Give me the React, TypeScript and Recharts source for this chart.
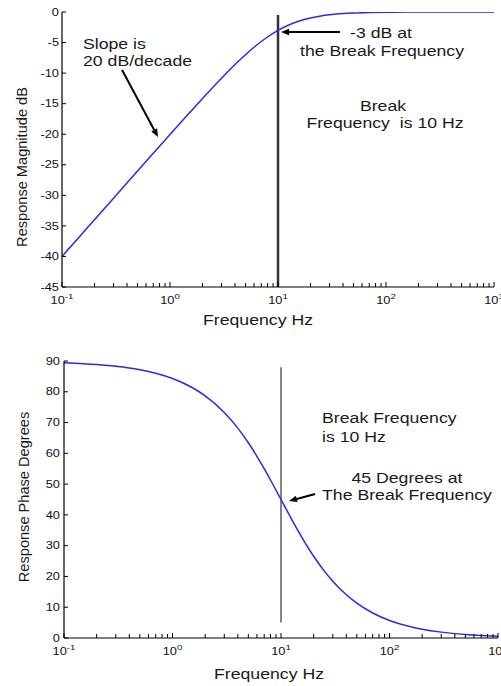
import React from 'react';
import { LineChart, Line, XAxis, YAxis, ReferenceLine, ReferenceDot } from 'recharts';

// ---------- data ----------
const frequencies = [0.1, 0.15, 0.2, 0.3, 0.5, 0.7, 1, 1.5, 2, 3, 4, 5, 6, 7, 8, 10, 12, 15, 20, 25, 30, 40, 50, 70, 100, 150, 200, 300, 500, 700, 1000];
const magnitudeDb = [-40.0, -36.48, -33.98, -30.46, -26.03, -23.12, -20.04, -16.58, -14.15, -10.83, -8.6, -6.99, -5.77, -4.83, -4.09, -3.01, -2.29, -1.6, -0.97, -0.64, -0.46, -0.26, -0.17, -0.09, -0.04, -0.02, -0.01, 0, 0, 0, 0];
const phaseDeg = [89.43, 89.14, 88.85, 88.28, 87.14, 86.0, 84.29, 81.47, 78.69, 73.3, 68.2, 63.43, 59.04, 55.01, 51.34, 45.0, 39.81, 33.69, 26.57, 21.8, 18.43, 14.04, 11.31, 8.13, 5.71, 3.81, 2.86, 1.91, 1.15, 0.82, 0.57];

const xTickValues = [0.1, 0.2, 0.3, 0.4, 0.5, 0.6, 0.7, 0.8, 0.9, 1, 2, 3, 4, 5, 6, 7, 8, 9, 10, 20, 30, 40, 50, 60, 70, 80, 90, 100, 200, 300, 400, 500, 600, 700, 800, 900, 1000];
const decadeTicks = [0.1, 1, 10, 100, 1000];
const decadeExponents = ['-1', '0', '1', '2', '3'];
const magTicks = [0, -5, -10, -15, -20, -25, -30, -35, -40, -45];
const phaseTicks = [0, 10, 20, 30, 40, 50, 60, 70, 80, 90];
const breakFrequency = 10;

const magData = frequencies.map((f, i) => ({ f, v: magnitudeDb[i] }));
const phaseData = frequencies.map((f, i) => ({ f, v: phaseDeg[i] }));

// ---------- styling helpers ----------
const SX = 1.22;
const FONT = '"Liberation Sans", Arial, Helvetica, sans-serif';
const TXT = '#1a1a1a';
const CURVE = '#2a2ae6';

function SText({ x, y, anchor = 'start', size = 14.5, children }: any) {
  return (
    <text
      transform={`translate(${x},${y}) scale(${SX},1)`}
      x={0}
      y={0}
      textAnchor={anchor}
      fontSize={size}
      fontFamily={FONT}
      fill={TXT}
      style={{ whiteSpace: 'pre' }}
    >
      {children}
    </text>
  );
}

const BottomTick = (props: any) => {
  const { x, y, payload } = props;
  const i = decadeTicks.indexOf(payload.value);
  const major = i >= 0;
  return (
    <g>
      <line x1={x} x2={x} y1={y} y2={y - (major ? 5 : 4)} stroke="#000" strokeWidth={1} />
      {major && (
        <text transform={`translate(${x},${y + 17}) scale(${SX},1)`} textAnchor="middle" fontSize={10.5} fontFamily={FONT} fill="#111">
          <tspan>10</tspan>
          <tspan dy={-5} fontSize={8}>{decadeExponents[i]}</tspan>
        </text>
      )}
    </g>
  );
};

const TopTick = (props: any) => {
  const { x, y, payload } = props;
  const major = decadeTicks.indexOf(payload.value) >= 0;
  return <line x1={x} x2={x} y1={y} y2={y + (major ? 5 : 4)} stroke="#000" strokeWidth={1} />;
};

const LeftTick = (props: any) => {
  const { x, y, payload, gap } = props;
  return (
    <g>
      <line x1={x} x2={x + 4} y1={y} y2={y} stroke="#000" strokeWidth={1} />
      <text transform={`translate(${x - gap},${y + 3.7}) scale(${SX},1)`} textAnchor="end" fontSize={10.5} fontFamily={FONT} fill="#111">
        {String(payload.value)}
      </text>
    </g>
  );
};

const RightTick = (props: any) => {
  const { x, y } = props;
  return <line x1={x} x2={x - 4} y1={y} y2={y} stroke="#000" strokeWidth={1} />;
};

const XTitle = (props: any) => {
  const vb = props.viewBox || { x: 0, y: 0, width: 0, height: 0 };
  return (
    <SText x={vb.x + vb.width / 2 + props.dx} y={vb.y + props.dy} anchor="middle" size={14.5}>
      Frequency Hz
    </SText>
  );
};

const YTitle = (props: any) => {
  const vb = props.viewBox || { x: 0, y: 0, width: 0, height: 0 };
  const cy = vb.y + vb.height / 2 + props.dy;
  return (
    <text transform={`translate(${props.bx},${cy}) rotate(-90)`} textAnchor="middle" fontSize={14.6} fontFamily={FONT} fill={TXT}>
      {props.text}
    </text>
  );
};

const Arrow = (props: any) => {
  const { x1, y1, x2, y2 } = props;
  if ([x1, y1, x2, y2].some((v) => typeof v !== 'number' || isNaN(v))) return <g />;
  const ang = Math.atan2(y2 - y1, x2 - x1);
  const L = 8;
  const W = 3.3;
  const bx = x2 - L * Math.cos(ang);
  const by = y2 - L * Math.sin(ang);
  const px = -Math.sin(ang) * W;
  const py = Math.cos(ang) * W;
  return (
    <g>
      <line x1={x1} y1={y1} x2={bx} y2={by} stroke="#000" strokeWidth={2} />
      <polygon points={`${x2},${y2} ${bx + px},${by + py} ${bx - px},${by - py}`} fill="#000" />
    </g>
  );
};

const textShape = (label: string, anchor: string, size = 14.5) => (p: any) => (
  <SText x={p.cx} y={p.cy} anchor={anchor} size={size}>
    {label}
  </SText>
);

// annotations (data coordinates)
const magNotes = [
  { f: 0.1565, v: -6.05, text: 'Slope is', anchor: 'start' },
  { f: 0.1565, v: -8.84, text: '20 dB/decade', anchor: 'start' },
  { f: 89.9, v: -4.25, text: '-3 dB at', anchor: 'middle' },
  { f: 91.8, v: -7.2, text: 'the Break Frequency', anchor: 'middle' },
  { f: 93.8, v: -16.2, text: 'Break', anchor: 'middle' },
  { f: 97.9, v: -18.98, text: 'Frequency  is 10 Hz', anchor: 'middle' },
];
const magArrows = [
  [{ x: 0.36, y: -9.49 }, { x: 0.774, y: -20.45 }],
  [{ x: 37.5, y: -3.27 }, { x: 10.67, y: -3.27 }],
];
const phaseNotes = [
  { f: 23.9, v: 69.85, text: 'Break Frequency', anchor: 'start' },
  { f: 23.9, v: 63.7, text: 'is 10 Hz', anchor: 'start' },
  { f: 144.9, v: 50.4, text: '45 Degrees at', anchor: 'middle' },
  { f: 144.9, v: 44.8, text: 'The Break Frequency', anchor: 'middle' },
];
const phaseArrows = [[{ x: 20.6, y: 46.8 }, { x: 11.86, y: 44.5 }]];

export default function App() {
  return (
    <div style={{ position: 'absolute', left: 0, top: 0, width: 501, height: 686, background: '#fff', overflow: 'hidden' }}>
      <div style={{ position: 'absolute', left: 0, top: 0 }}>
        <LineChart width={501} height={340} data={magData} margin={{ top: 12, right: 7, bottom: 0, left: 0 }}>
          <XAxis
            xAxisId="b"
            dataKey="f"
            type="number"
            scale="log"
            domain={[0.1, 1000]}
            allowDataOverflow
            ticks={xTickValues}
            interval={0}
            tickSize={0}
            tickMargin={0}
            tickLine={false}
            tick={<BottomTick />}
            height={53}
            axisLine={{ stroke: '#000', strokeWidth: 1.2 }}
            label={<XTitle dx={-20} dy={38} />}
          />
          <XAxis
            xAxisId="t"
            orientation="top"
            dataKey="f"
            type="number"
            scale="log"
            domain={[0.1, 1000]}
            allowDataOverflow
            ticks={xTickValues}
            interval={0}
            tickSize={0}
            tickMargin={0}
            tickLine={false}
            tick={<TopTick />}
            height={0}
            axisLine={{ stroke: '#000', strokeWidth: 1.2 }}
          />
          <YAxis
            yAxisId="l"
            type="number"
            domain={[-45, 0]}
            allowDataOverflow
            ticks={magTicks}
            interval={0}
            tickSize={0}
            tickMargin={0}
            tickLine={false}
            tick={<LeftTick gap={3} />}
            width={62}
            axisLine={{ stroke: '#000', strokeWidth: 1.2 }}
            label={<YTitle bx={27} dy={17.5} text="Response Magnitude dB" />}
          />
          <YAxis
            yAxisId="r"
            orientation="right"
            type="number"
            domain={[-45, 0]}
            allowDataOverflow
            ticks={magTicks}
            interval={0}
            tickSize={0}
            tickMargin={0}
            tickLine={false}
            tick={<RightTick />}
            width={0}
            axisLine={{ stroke: '#000', strokeWidth: 1.2 }}
          />
          <ReferenceLine
            xAxisId="b"
            yAxisId="l"
            segment={[{ x: breakFrequency, y: -0.5 }, { x: breakFrequency, y: -45 }]}
            stroke="#333"
            strokeWidth={2.5}
          />
          <Line xAxisId="b" yAxisId="l" dataKey="v" type="monotone" stroke={CURVE} strokeWidth={1.5} dot={false} isAnimationActive={false} />
          {magArrows.map((seg, i) => (
            <ReferenceLine key={'ma' + i} xAxisId="b" yAxisId="l" segment={seg} shape={<Arrow />} />
          ))}
          {magNotes.map((n, i) => (
            <ReferenceDot key={'mn' + i} xAxisId="b" yAxisId="l" x={n.f} y={n.v} r={0} shape={textShape(n.text, n.anchor)} />
          ))}
        </LineChart>
      </div>
      <div style={{ position: 'absolute', left: 0, top: 340 }}>
        <LineChart width={501} height={346} data={phaseData} margin={{ top: 21, right: 3, bottom: 0, left: 0 }}>
          <XAxis
            xAxisId="b"
            dataKey="f"
            type="number"
            scale="log"
            domain={[0.1, 1000]}
            allowDataOverflow
            ticks={xTickValues}
            interval={0}
            tickSize={0}
            tickMargin={0}
            tickLine={false}
            tick={<BottomTick />}
            height={48}
            axisLine={{ stroke: '#000', strokeWidth: 1.2 }}
            label={<XTitle dx={-12} dy={41} />}
          />
          <XAxis
            xAxisId="t"
            orientation="top"
            dataKey="f"
            type="number"
            scale="log"
            domain={[0.1, 1000]}
            allowDataOverflow
            ticks={xTickValues}
            interval={0}
            tickSize={0}
            tickMargin={0}
            tickLine={false}
            tick={<TopTick />}
            height={0}
            axisLine={{ stroke: '#000', strokeWidth: 1.2 }}
          />
          <YAxis
            yAxisId="l"
            type="number"
            domain={[0, 90]}
            allowDataOverflow
            ticks={phaseTicks}
            interval={0}
            tickSize={0}
            tickMargin={0}
            tickLine={false}
            tick={<LeftTick gap={4} />}
            width={64}
            axisLine={{ stroke: '#000', strokeWidth: 1.2 }}
            label={<YTitle bx={29} dy={-2.5} text="Response Phase Degrees" />}
          />
          <YAxis
            yAxisId="r"
            orientation="right"
            type="number"
            domain={[0, 90]}
            allowDataOverflow
            ticks={phaseTicks}
            interval={0}
            tickSize={0}
            tickMargin={0}
            tickLine={false}
            tick={<RightTick />}
            width={0}
            axisLine={{ stroke: '#000', strokeWidth: 1.2 }}
          />
          <ReferenceLine
            xAxisId="b"
            yAxisId="l"
            segment={[{ x: breakFrequency, y: 88 }, { x: breakFrequency, y: 5 }]}
            stroke="#444"
            strokeWidth={1.3}
          />
          <Line xAxisId="b" yAxisId="l" dataKey="v" type="monotone" stroke={CURVE} strokeWidth={1.5} dot={false} isAnimationActive={false} />
          {phaseArrows.map((seg, i) => (
            <ReferenceLine key={'pa' + i} xAxisId="b" yAxisId="l" segment={seg} shape={<Arrow />} />
          ))}
          {phaseNotes.map((n, i) => (
            <ReferenceDot key={'pn' + i} xAxisId="b" yAxisId="l" x={n.f} y={n.v} r={0} shape={textShape(n.text, n.anchor)} />
          ))}
        </LineChart>
      </div>
    </div>
  );
}
